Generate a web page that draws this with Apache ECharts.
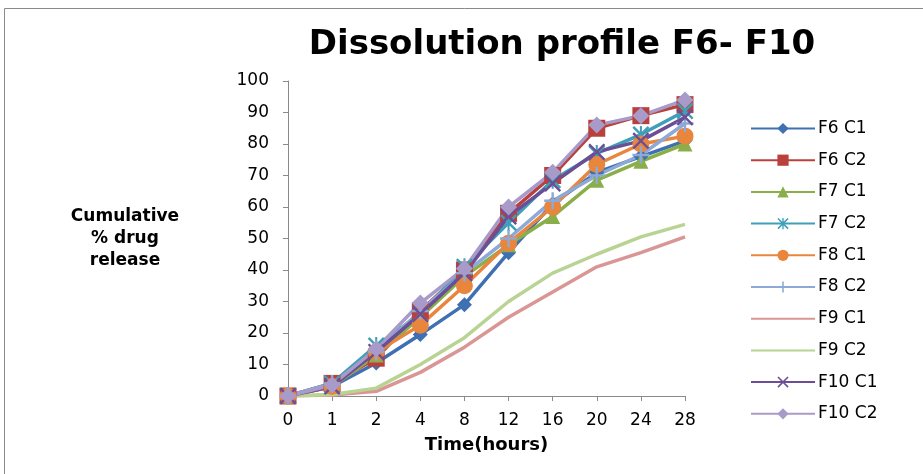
<!DOCTYPE html>
<html>
<head>
<meta charset="utf-8">
<script src="https://cdn.jsdelivr.net/npm/echarts@6/dist/echarts.min.js"></script>
<style>
  html, body { margin: 0; padding: 0; background: #fff; }
  #main { width: 923px; height: 474px; }
</style>
</head>
<body>
<div id="main"></div>
<script>
// time points (hours)
var times = ['0', '1', '2', '4', '8', '12', '16', '20', '24', '28'];
var yTicks = [0, 100, 10];

// cumulative % drug release
var f6c1 = [0, 3, 10.5, 19.5, 29, 45.5, 61, 71, 76, 81];
var f6c2 = [0, 4, 12, 27, 40, 58, 70, 85, 89, 92.5];
var f7c1 = [0, 3, 13, 25, 38, 48, 57, 68.5, 74.5, 80];
var f7c2 = [0, 4, 16, 26, 41, 55, 68.5, 77, 83, 90.5];
var f8c1 = [0, 3, 14, 22.5, 35, 48.5, 60, 73.5, 80, 82.5];
var f8c2 = [0, 4, 14, 27, 39, 50, 62, 70, 76.5, 86.5];
var f9c1 = [0, 0.3, 1.5, 7.5, 15.5, 25, 33, 41, 45.5, 50.5];
var f9c2 = [0, 0.5, 2.5, 10, 18.5, 30, 39, 45, 50.5, 54.5];
var f10c1 = [0, 3, 14, 26, 39, 57, 67.5, 77.5, 81, 88.5];
var f10c2 = [0, 3.5, 15, 29.5, 40.5, 60, 71, 86, 89, 94];

var names = ['F6 C1', 'F6 C2', 'F7 C1', 'F7 C2', 'F8 C1', 'F8 C2', 'F9 C1', 'F9 C2', 'F10 C1', 'F10 C2'];
var values = [f6c1, f6c2, f7c1, f7c2, f8c1, f8c2, f9c1, f9c2, f10c1, f10c2];

// marker shapes like the excel ones
var PLUS = 'path://M4.3,0h1.4v10h-1.4z M0,4.3h10v1.4h-10z';
var CROSS = 'path://M0,1L1,0L10,9L9,10Z M9,0L10,1L1,10L0,9Z';
var STAR = 'path://M0,1L1,0L10,9L9,10Z M9,0L10,1L1,10L0,9Z M4.4,0h1.2v10h-1.2z';

var colors = ['#3F70B1', '#B8413E', '#8AAF4A', '#3F9FB8', '#E8863E', '#8DA9D8', '#D99694', '#B9D393', '#6B4E95', '#A99BC9'];
var symbols = ['diamond', 'rect', 'triangle', STAR, 'circle', PLUS, 'none', 'none', CROSS, 'diamond'];
var sizes = [15, 17, 15, 17, 17, 17, 0, 0, 17, 17];

var series = [];
var legendData = [];
for (var i = 0; i < names.length; i++) {
  series.push({
    name: names[i],
    type: 'line',
    data: values[i],
    symbol: symbols[i],
    symbolSize: sizes[i],
    showSymbol: symbols[i] !== 'none',
    lineStyle: { width: 3.5, color: colors[i] },
    itemStyle: { color: colors[i] },
    emphasis: { disabled: true }
  });
  // the F9 lines have no marker, so hide the legend marker too
  legendData.push(symbols[i] === 'none'
    ? { name: names[i], itemStyle: { opacity: 0 } }
    : { name: names[i] });
}

var myChart = echarts.init(document.getElementById('main'));
var option = {
  animation: false,
  color: colors,
  graphic: [{
    type: 'rect',
    shape: { x: 4.5, y: 8.5, width: 940, height: 500 },
    style: { fill: 'none', stroke: '#8a8a8a', lineWidth: 1 },
    silent: true
  }],
  title: {
    text: 'Dissolution profile F6- F10',
    left: 557,
    textAlign: 'center',
    top: 23,
    textStyle: { fontFamily: 'DejaVu Sans', fontWeight: 'bold', fontSize: 34, color: '#000' }
  },
  legend: {
    orient: 'vertical',
    left: 745,
    top: 115,
    itemWidth: 64,
    itemHeight: 14,
    itemGap: 14.7,
    data: legendData,
    textStyle: { fontFamily: 'DejaVu Sans', fontSize: 17, color: '#000', padding: [0, 0, 0, -2] }
  },
  grid: { left: 288, top: 81, width: 397, height: 315, containLabel: false },
  xAxis: {
    type: 'category',
    data: times,
    boundaryGap: false,
    name: 'Time(hours)',
    nameLocation: 'middle',
    nameGap: 40,
    nameMoveOverlap: false,
    nameTextStyle: { fontFamily: 'DejaVu Sans', fontWeight: 'bold', fontSize: 18, color: '#000' },
    axisLine: { lineStyle: { color: '#8a8a8a', width: 1 } },
    axisTick: { show: true, alignWithLabel: true, length: 5, lineStyle: { color: '#8a8a8a' } },
    axisLabel: { fontFamily: 'DejaVu Sans', fontSize: 17, color: '#000', margin: 16 },
    splitLine: { show: false }
  },
  yAxis: {
    type: 'value',
    min: yTicks[0],
    max: yTicks[1],
    interval: yTicks[2],
    name: 'Cumulative\n% drug\nrelease',
    nameLocation: 'middle',
    nameRotate: 0,
    nameGap: 163,
    nameTextStyle: { fontFamily: 'DejaVu Sans', fontWeight: 'bold', fontSize: 17, color: '#000', lineHeight: 22, align: 'center', padding: [6, 0, 0, 0] },
    axisLine: { show: true, lineStyle: { color: '#8a8a8a', width: 1 } },
    axisTick: { show: true, length: 5, lineStyle: { color: '#8a8a8a' } },
    axisLabel: { fontFamily: 'DejaVu Sans', fontSize: 17, color: '#000', margin: 19 },
    splitLine: { show: false }
  },
  series: series
};
myChart.setOption(option);
</script>
</body>
</html>
